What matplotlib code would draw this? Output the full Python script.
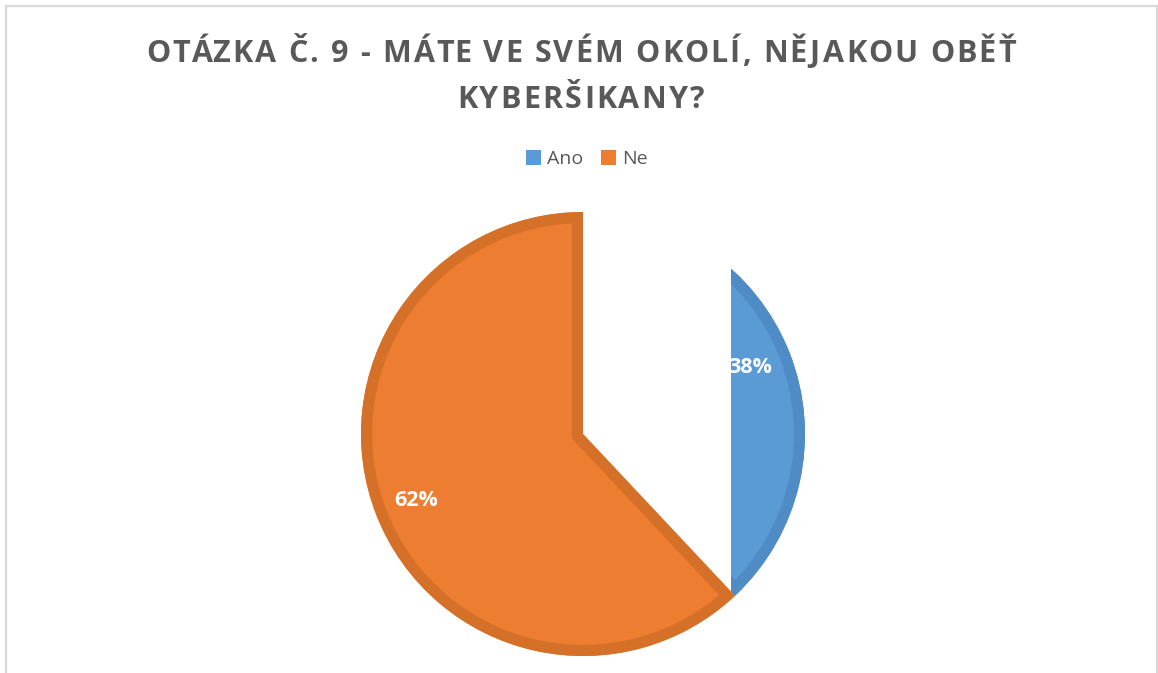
import matplotlib.pyplot as plt
from matplotlib.patches import Patch, Rectangle, PathPatch
from matplotlib.lines import Line2D
from matplotlib.font_manager import FontProperties

# data
categories = ['Ano', 'Ne']
values = [38, 62]
colors = ['#5B9BD5', '#ED7D31']
edge_colors = ['#4F8BC4', '#D57029']
title_lines = ['OTÁZKA Č. 9 - MÁTE VE SVÉM OKOLÍ, NĚJAKOU OBĚŤ', 'KYBERŠIKANY?']

W, H = 1158, 673
fig = plt.figure(figsize=(W / 100, H / 100), dpi=100)
ax = fig.add_axes([0, 0, 1, 1])

cx, cy, r = 583, H - 434, 222
wedges, texts, pcts = ax.pie(values, colors=colors, startangle=90, counterclock=False,
                             center=(cx, cy), radius=r, autopct='%1.0f%%', pctdistance=0.81,
                             textprops=dict(color='white', fontsize=15.5, fontweight='bold',
                                            family='Open Sans'),
                             frame=True)
ax.set_xlim(0, W)
ax.set_ylim(0, H)
ax.axis('off')

# inner border of each slice (stroke clipped to the slice itself)
for w, ec, z in zip(wedges, edge_colors, [1, 3]):
    w.set_edgecolor('none')
    w.set_zorder(z)
    border = PathPatch(w.get_path(), transform=ax.transData, facecolor='none',
                       edgecolor=ec, lw=16, zorder=z + 0.5)
    ax.add_patch(border)
    border.set_clip_path(w.get_path(), ax.transData)

# the blue slice is only visible to the right of x = 731 in the original
ax.add_patch(Rectangle((cx - 3, cy - r - 15), 731 - (cx - 3), 2 * r + 30,
                       facecolor='white', edgecolor='none', zorder=2))
for t in pcts:
    t.set_zorder(5)

# chart frame
for xs, ys in [([6, 6], [0, H - 6]), ([6, W - 1], [H - 6, H - 6]), ([W - 1.5, W - 1.5], [0, H - 6])]:
    ax.add_line(Line2D(xs, ys, color='#D9D9D9', lw=1.6, zorder=6))

# title with widened letter spacing
renderer = fig.canvas.get_renderer()
tprop = FontProperties(family='Open Sans', weight='bold', size=22)
track = 2.15
for line, base in zip(title_lines, [62, 108]):
    widths = [renderer.get_text_width_height_descent(line[:i], tprop, ismath=False)[0]
              for i in range(len(line) + 1)]
    total = widths[-1] + track * (len(line) - 1)
    x0 = 581 - total / 2
    for i, ch in enumerate(line):
        if ch == ' ':
            continue
        ax.text(x0 + widths[i] + track * i, H - base, ch, fontproperties=tprop,
                color='#595959', ha='left', va='baseline')

handles = [Patch(facecolor=c, edgecolor='none') for c in colors]
fig.legend(handles, categories, loc='center', bbox_to_anchor=(587 / W, 1 - 159 / H), ncol=2,
           frameon=False, handlelength=0.78, handleheight=0.78, handletextpad=0.3,
           columnspacing=0.9, prop=dict(family='Open Sans', size=14),
           labelcolor='#595959')

fig.savefig('out.png', dpi=100)
